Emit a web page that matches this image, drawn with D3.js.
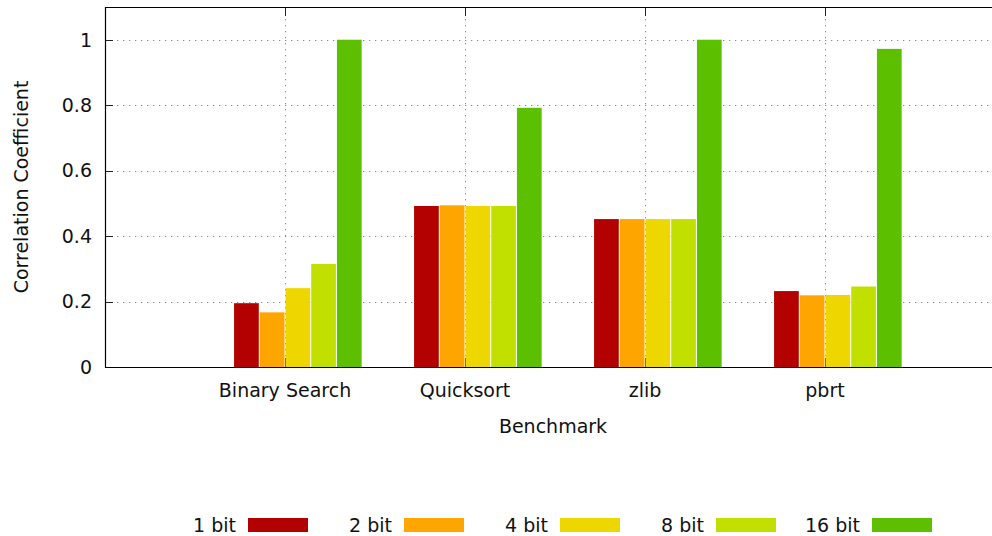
<!DOCTYPE html>
<html>
<head>
<meta charset="utf-8">
<script src="https://cdn.jsdelivr.net/npm/d3@7"></script>
<style>
  html, body { margin: 0; padding: 0; background: #fff; }
  svg { display: block; font-family: "DejaVu Sans", Verdana, sans-serif; }
</style>
</head>
<body>
<svg id="chart" width="992" height="536"></svg>
<script>
const categories = ["Binary Search", "Quicksort", "zlib", "pbrt"];
const seriesNames = ["1 bit", "2 bit", "4 bit", "8 bit", "16 bit"];
const seriesColors = ["#b30000", "#ffa500", "#eed700", "#c2e000", "#5cbf00"];
const values1bit  = [0.195, 0.492, 0.452, 0.232];
const values2bit  = [0.167, 0.494, 0.452, 0.219];
const values4bit  = [0.241, 0.492, 0.452, 0.220];
const values8bit  = [0.315, 0.492, 0.452, 0.246];
const values16bit = [1.000, 0.792, 1.000, 0.972];
const yTicks = [0, 0.2, 0.4, 0.6, 0.8, 1];
const yLabel = "Correlation Coefficient";
const xLabel = "Benchmark";

const series = [values1bit, values2bit, values4bit, values8bit, values16bit];

(function () {
const svg = d3.select("#chart");
const pLeft = 105, pRight = 1005, pTop = 7, pBottom = 367;
const fontSize = 19;

const x = d3.scaleLinear().domain([-1, categories.length]).range([pLeft, pRight]);
const y = d3.scaleLinear().domain([0, 1.1]).range([pBottom, pTop]);
const unit = x(1) - x(0);
const barW = unit / (series.length + 2);

const plot = svg.append("g");

const gridStyle = g => g.attr("stroke", "#888").attr("stroke-width", 1)
  .attr("stroke-dasharray", "1.3,4.7").attr("fill", "none");

plot.append("g").call(gridStyle)
  .selectAll("line").data(yTicks.filter(d => d > 0)).join("line")
  .attr("x1", pLeft).attr("x2", pRight)
  .attr("y1", d => Math.round(y(d)) + 0.5).attr("y2", d => Math.round(y(d)) + 0.5);

plot.append("g").call(gridStyle)
  .selectAll("line").data(categories).join("line")
  .attr("x1", (d, i) => Math.round(x(i)) + 0.5).attr("x2", (d, i) => Math.round(x(i)) + 0.5)
  .attr("y1", pTop).attr("y2", pBottom);

const tickG = plot.append("g").attr("stroke", "#222").attr("stroke-width", 1);
tickG.selectAll("line.yt").data(yTicks).join("line").attr("class", "yt")
  .attr("x1", pLeft).attr("x2", pLeft + 8)
  .attr("y1", d => Math.round(y(d)) + 0.5).attr("y2", d => Math.round(y(d)) + 0.5);
tickG.selectAll("line.xtb").data(categories).join("line").attr("class", "xtb")
  .attr("x1", (d, i) => Math.round(x(i)) + 0.5).attr("x2", (d, i) => Math.round(x(i)) + 0.5)
  .attr("y1", pBottom).attr("y2", pBottom - 9);
tickG.selectAll("line.xtt").data(categories).join("line").attr("class", "xtt")
  .attr("x1", (d, i) => Math.round(x(i)) + 0.5).attr("x2", (d, i) => Math.round(x(i)) + 0.5)
  .attr("y1", pTop).attr("y2", pTop + 9);

series.forEach((vals, s) => {
  plot.append("g").attr("fill", seriesColors[s])
    .selectAll("rect").data(vals).join("rect")
    .attr("x", (d, i) => x(i) + (s - 2) * barW + 0.5)
    .attr("width", barW - 1)
    .attr("y", d => y(d))
    .attr("height", d => y(0) - y(d));
});

svg.append("path")
  .attr("d", `M${pRight},${pTop + 0.5}H${pLeft + 0.5}V${pBottom + 0.5}H${pRight}`)
  .attr("fill", "none").attr("stroke", "#000").attr("stroke-width", 1.2);

svg.append("g").selectAll("text").data(yTicks).join("text")
  .attr("x", 92).attr("y", d => y(d))
  .attr("dy", "0.36em")
  .attr("text-anchor", "end").attr("font-size", fontSize).attr("fill", "#111")
  .text(d => d3.format("")(d));

svg.append("g").selectAll("text").data(categories).join("text")
  .attr("x", (d, i) => x(i)).attr("y", 397)
  .attr("text-anchor", "middle").attr("font-size", fontSize).attr("fill", "#111")
  .text(d => d);

svg.append("text").attr("x", 553).attr("y", 433)
  .attr("text-anchor", "middle").attr("font-size", fontSize).attr("fill", "#111")
  .text(xLabel);
svg.append("text").attr("transform", "translate(28,187) rotate(-90)")
  .attr("text-anchor", "middle").attr("font-size", fontSize).attr("fill", "#111")
  .text(yLabel);

const legend = svg.append("g");
const lg = legend.selectAll("g").data(seriesNames).join("g")
  .attr("transform", (d, i) => `translate(${248 + i * 156},518)`);
lg.append("rect").attr("x", 0).attr("y", 0).attr("width", 60).attr("height", 14)
  .attr("fill", (d, i) => seriesColors[i]);
lg.append("text").attr("x", -12).attr("y", 14)
  .attr("text-anchor", "end").attr("font-size", fontSize).attr("fill", "#111")
  .text(d => d);
})();
</script>
</body>
</html>
